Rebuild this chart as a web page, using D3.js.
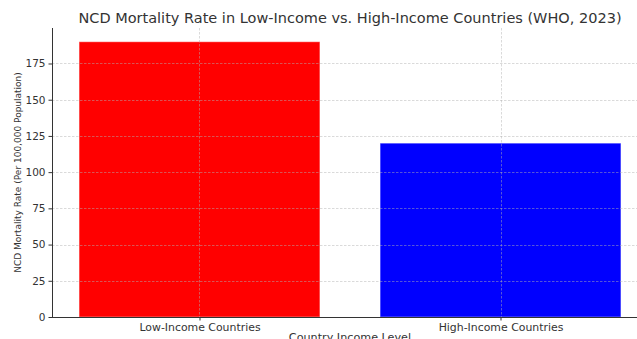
<!DOCTYPE html>
<html><head><meta charset="utf-8">
<script src="https://cdn.jsdelivr.net/npm/d3@7"></script>
<style>body{margin:0;background:#fff}svg{display:block}text{font-family:"DejaVu Sans",sans-serif}</style>
</head><body>
<svg id="c" width="637" height="339"></svg>
<script>
const categories = ["Low-Income Countries", "High-Income Countries"];
const values = [190, 120];
const colors = ["#ff0000", "#0000ff"];
const yTicks = [0, 25, 50, 75, 100, 125, 150, 175];

(function () {
const svg = d3.select("#c");
const mL = 52, mR = 648, mT = 28, mB = 317;
const x = d3.scaleLinear().domain([-0.49, 1.49]).range([mL, mR]);
const y = d3.scaleLinear().domain([0, 199.5]).range([mB, mT]);
const bw = 0.8;

// bars
svg.selectAll("rect.bar").data(values).join("rect")
  .attr("class", "bar")
  .attr("x", (d, i) => x(i - bw / 2))
  .attr("width", (d, i) => x(i + bw / 2) - x(i - bw / 2))
  .attr("y", d => y(d))
  .attr("height", d => y(0) - y(d))
  .attr("fill", (d, i) => colors[i])
  .attr("stroke", "#ffffff").attr("stroke-opacity", 0.4).attr("stroke-width", 1);

// grid
const g = svg.append("g");
g.selectAll("line.h").data(yTicks).join("line")
  .attr("x1", mL).attr("x2", mR)
  .attr("y1", d => Math.round(y(d)) + 0.5).attr("y2", d => Math.round(y(d)) + 0.5)
  .attr("stroke", "#b0b0b0").attr("stroke-opacity", 0.6).attr("stroke-dasharray", "2.5,1.5").attr("stroke-width", 0.8);
g.selectAll("line.v").data(categories).join("line")
  .attr("y1", mT).attr("y2", mB)
  .attr("x1", (d, i) => Math.round(x(i)) + 0.5).attr("x2", (d, i) => Math.round(x(i)) + 0.5)
  .attr("stroke", "#b0b0b0").attr("stroke-opacity", 0.6).attr("stroke-dasharray", "2.5,1.5").attr("stroke-width", 0.8);

// axes
const yAxis = d3.axisLeft(y).tickValues(yTicks).tickSize(3.5).tickPadding(3);
const ya = svg.append("g").attr("transform", `translate(${mL},0)`).call(yAxis);
ya.select(".domain").attr("d", `M0.5,${mT}V${mB}`).attr("stroke", "#333");
ya.selectAll(".tick line").attr("stroke", "#333");
ya.selectAll("text").attr("font-size", 10.5).attr("fill", "#333").attr("font-family", "DejaVu Sans");

const xAxis = d3.axisBottom(x).tickValues([0, 1]).tickFormat(i => categories[i]).tickSize(3.5).tickPadding(2.5);
const xa = svg.append("g").attr("transform", `translate(0,${mB})`).call(xAxis);
xa.select(".domain").attr("d", `M${mL},0.5H${mR}`).attr("stroke", "#333");
xa.selectAll(".tick line").attr("stroke", "#333");
xa.selectAll("text").attr("font-size", 10.9).attr("fill", "#333").attr("font-family", "DejaVu Sans");

// title and labels
svg.append("text").attr("x", 350).attr("y", 23).attr("text-anchor", "middle")
  .attr("font-size", 14.5).attr("fill", "#333").text("NCD Mortality Rate in Low-Income vs. High-Income Countries (WHO, 2023)");
svg.append("text").attr("transform", `translate(21,${(mT + mB) / 2}) rotate(-90)`).attr("text-anchor", "middle")
  .attr("font-size", 9).attr("fill", "#333").text("NCD Mortality Rate (Per 100,000 Population)");
svg.append("text").attr("x", 350).attr("y", 341).attr("text-anchor", "middle")
  .attr("font-size", 11.2).attr("fill", "#333").text("Country Income Level");
})();
</script>
</body></html>
